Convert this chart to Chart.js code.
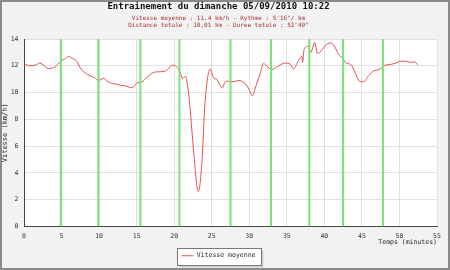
<!DOCTYPE html>
<html>
<head>
<meta charset="utf-8">
<script src="https://cdn.jsdelivr.net/npm/chart.js@4"></script>
<style>
  html, body { margin: 0; padding: 0; background: #f2f2f2; }
  canvas { display: block; }
</style>
</head>
<body>
<canvas id="speed-chart" width="450" height="270"></canvas>
<script>
// Temps (minutes) et vitesse (km/h)
const times = [0, 0.8, 1.5, 2.1, 2.7, 3.2, 4.1, 4.9, 5.4, 5.9, 6.6, 7.0, 7.6, 8.2, 8.8, 9.4, 9.9,
  10.6, 11.2, 12.1, 12.8, 13.5, 14.4, 15.0, 15.7, 16.4, 17.2, 17.9, 18.8, 19.2, 19.7, 20.3, 20.8,
  21.1, 21.5, 21.9, 22.1, 22.6, 23.2, 23.7, 24.1, 24.8, 25.2, 25.7, 26.4, 26.8, 27.2, 27.7, 28.6,
  29.5, 30.0, 30.4, 30.9, 31.5, 31.9, 32.5, 33.0, 33.9, 34.8, 35.5, 35.9, 36.4, 37.0, 37.1, 37.3,
  37.8, 38.2, 38.7, 39.1, 39.7, 40.4, 40.9, 41.3, 41.9, 42.5, 42.9, 43.5, 44.1, 44.6, 45.2, 45.9,
  46.6, 47.2, 47.7, 48.1, 48.8, 49.5, 50.1, 50.8, 51.5, 52.0, 52.5];
const speeds = [12.15, 12.0, 12.05, 12.2, 12.0, 11.8, 11.9, 12.35, 12.5, 12.7, 12.5, 12.35, 11.75,
  11.45, 11.25, 11.1, 10.9, 11.07, 10.8, 10.65, 10.55, 10.5, 10.36, 10.7, 10.8, 11.15, 11.5, 11.55,
  11.6, 11.75, 12.04, 11.95, 11.5, 11.07, 11.2, 10.05, 8.95, 5.55, 2.6, 4.8, 9.2, 11.75, 11.15,
  10.95, 10.35, 10.8, 10.85, 10.8, 10.9, 10.65, 10.2, 9.76, 10.53, 11.5, 12.17, 11.9, 11.7, 12.0,
  12.2, 12.1, 11.75, 12.24, 12.7, 12.26, 13.2, 13.45, 13.0, 13.75, 12.9, 13.2, 13.65, 13.7, 13.5,
  12.85, 12.5, 12.2, 12.1, 11.5, 10.9, 10.8, 11.26, 11.63, 11.7, 11.88, 12.04, 12.1, 12.2, 12.34,
  12.35, 12.24, 12.3, 12.04];
// Passage de chaque kilometre (minutes)
const kmTimes = [4.9, 9.9, 15.5, 20.7, 27.5, 32.9, 38.0, 42.5, 47.8];

const titleText = 'Entrainement du dimanche 05/09/2010 10:22';
const subtitleLines = [
  'Vitesse moyenne : 11.4 km/h - Rythme : 5\'16"/ km',
  'Distance totale : 10,01 km - Duree totale : 52\'49"'
];
const seriesLabel = 'Vitesse moyenne';
const xMax = 55, xStep = 5;
const yMax = 14, yStep = 2;

const mono = "'DejaVu Sans Mono', 'Liberation Mono', monospace";

// Background, plot area and legend frame
const frame = {
  id: 'frame',
  beforeDraw(chart) {
    const ctx = chart.ctx;
    const a = chart.chartArea;
    ctx.save();
    ctx.fillStyle = '#f2f2f2';
    ctx.fillRect(0, 0, chart.width, chart.height);
    ctx.strokeStyle = '#8a8a8a';
    ctx.lineWidth = 2;
    ctx.strokeRect(1, 1, chart.width - 2, chart.height - 2);
    ctx.fillStyle = '#ffffff';
    ctx.fillRect(a.left, a.top, a.right - a.left, a.bottom - a.top);
    const hb = chart.legend && chart.legend.legendHitBoxes && chart.legend.legendHitBoxes[0];
    if (hb) {
      const x = Math.round(hb.left - 5) + 0.5, y = Math.round(hb.top - 5) + 0.5;
      const w = Math.round(hb.width + 10), h = Math.round(hb.height + 10);
      ctx.fillStyle = '#d0d0d0';
      ctx.fillRect(x + 2, y + 2, w, h);
      ctx.fillStyle = '#ffffff';
      ctx.fillRect(x, y, w, h);
      ctx.strokeStyle = '#777';
      ctx.lineWidth = 1;
      ctx.strokeRect(x, y, w, h);
    }
    ctx.restore();
  }
};

const datasets = [{
  label: seriesLabel,
  data: times.map((t, i) => ({ x: t, y: speeds[i] })),
  borderColor: '#e65050',
  backgroundColor: '#e65050',
  borderWidth: 1,
  pointRadius: 0,
  cubicInterpolationMode: 'monotone',
  order: 2
}];
kmTimes.forEach(t => {
  datasets.push({
    label: 'km',
    data: [{ x: t, y: 0 }, { x: t, y: yMax }],
    borderColor: '#74e474',
    borderWidth: 2,
    pointRadius: 0,
    order: 1
  });
});

new Chart(document.getElementById('speed-chart').getContext('2d'), {
  type: 'line',
  data: { datasets },
  options: {
    responsive: false,
    devicePixelRatio: 1,
    animation: false,
    layout: { padding: { left: 0, right: 13, top: 0, bottom: 1 } },
    plugins: {
      title: {
        display: true,
        text: titleText,
        color: '#111',
        font: { family: mono, size: 9, weight: 'bold', lineHeight: 1.2 },
        padding: { top: 1.6, bottom: 0 }
      },
      subtitle: {
        display: true,
        text: subtitleLines,
        color: '#a83030',
        font: { family: mono, size: 6, lineHeight: 7 / 6 },
        padding: { top: 2.1, bottom: 10.5 }
      },
      legend: {
        position: 'bottom',
        labels: {
          filter: item => item.datasetIndex === 0,
          usePointStyle: true,
          pointStyle: 'line',
          pointStyleWidth: 12,
          color: '#222',
          font: { family: mono, size: 6.5 },
          padding: 6
        }
      },
      tooltip: { enabled: false }
    },
    scales: {
      x: {
        type: 'linear',
        min: 0,
        max: xMax,
        afterFit: s => { s.height = 20; },
        ticks: { stepSize: xStep, color: '#333', padding: 6, font: { family: mono, size: 6.5 } },
        grid: { color: '#e0e0e0', drawTicks: false },
        border: { color: '#444' },
        title: {
          display: true,
          text: 'Temps (minutes)',
          align: 'end',
          color: '#222',
          padding: 0,
          font: { family: mono, size: 6.5 }
        }
      },
      y: {
        min: 0,
        max: yMax,
        afterFit: s => { s.width = 24; },
        ticks: { stepSize: yStep, color: '#333', padding: 5.5, font: { family: mono, size: 6.5 } },
        grid: { color: '#e0e0e0', drawTicks: false },
        border: { color: '#444' },
        title: {
          display: true,
          text: 'Vitesse (km/h)',
          color: '#222',
          padding: 1,
          font: { family: mono, size: 7 }
        }
      }
    }
  },
  plugins: [frame]
});
</script>
</body>
</html>
